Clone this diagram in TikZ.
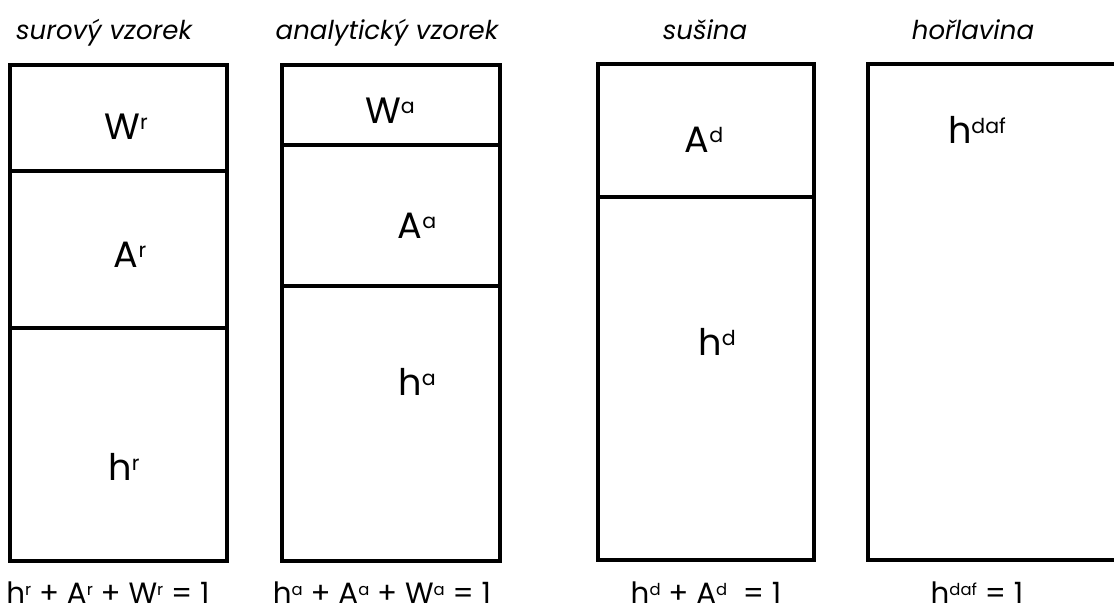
\documentclass[tikz,border=0pt]{standalone}
\usepackage{fontspec}
\setmainfont{Poppins}
\usepackage{graphicx}
\newcommand\up[1]{\raisebox{0.25em}{\scalebox{0.56}{#1}}}
\begin{document}
\begin{tikzpicture}[x=0.75pt,y=-0.75pt,
  frame/.style={line width=3pt},
  lbl/.style={font=\fontsize{27.5}{30}\selectfont, anchor=base, inner sep=0pt},
  ttl/.style={font=\fontsize{19.5}{22}\selectfont\itshape, anchor=base, inner sep=0pt},
  eq/.style={font=\fontsize{22}{25}\selectfont, anchor=base, inner sep=0pt}]
\useasboundingbox (0,0) rectangle (1114,614);
% boxes
\draw[frame] (9.5,65) rectangle (227,561);
\draw[frame] (9.5,171) -- (227,171);
\draw[frame] (9.5,328) -- (227,328);
\draw[frame] (282,65) rectangle (500,561);
\draw[frame] (282,144.5) -- (500,144.5);
\draw[frame] (282,286) -- (500,286);
\draw[frame] (598,64) rectangle (814,560);
\draw[frame] (598,197) -- (814,197);
\draw[frame] (868,64) rectangle (1125,560);
% titles
\node[ttl] (t1) at (104,39) {surový vzorek};
\node[ttl] (t2) at (387,39) {analytický vzorek};
\node[ttl] (t3) at (705,39) {sušina};
\node[ttl] (t4) at (973,39) {hořlavina};
% labels
\node[lbl] (wr) at (126,139) {W\up{r}};
\node[lbl] (ar) at (130,267) {A\up{r}};
\node[lbl] (hr) at (124,480) {h\up{r}};
\node[lbl] (wa) at (390,123) {W\up{a}};
\node[lbl] (aa) at (417,238) {A\up{a}};
\node[lbl] (ha) at (417,395) {h\up{a}};
\node[lbl] (ad) at (704,152) {A\up{d}};
\node[lbl] (hd) at (717,355) {h\up{d}};
\node[lbl] (hdaf) at (977,143) {h\up{daf}};
% equations
\node[eq] (e1) at (108,603) {h\up{r} + A\up{r} + W\up{r} = 1};
\node[eq] (e2) at (382,603) {h\up{a} + A\up{a} + W\up{a} = 1};
\node[eq] (e3) at (706,603) {h\up{d} + A\up{d}\ \ = 1};
\node[eq] (e4) at (977,603) {h\up{daf} = 1};
\end{tikzpicture}
\end{document}
